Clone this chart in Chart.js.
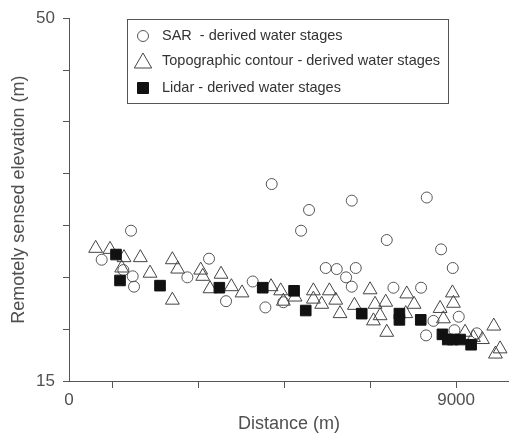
<!DOCTYPE html>
<html>
<head>
<meta charset="utf-8">
<title>Remotely sensed elevation</title>
<script src="https://cdn.jsdelivr.net/npm/chart.js@4.4.0/dist/chart.umd.min.js"></script>
<style>
  body { margin: 0; background: #fff; }
</style>
</head>
<body>
<canvas id="grafico" width="509" height="439"></canvas>
<script>
// SAR - derived water stages
const sarX = [760, 1442, 1264, 1481, 1512, 2752, 3256, 3651, 4271, 4566, 4713, 4984, 5395, 5581, 5969, 6225,
              6442, 6574, 6574, 6667, 7388, 7543, 8186, 8318, 8302, 8473, 8651, 8922, 9062, 8961, 9481];
const sarY = [26.7, 29.5, 25.7, 25.1, 24.1, 25.0, 26.8, 22.7, 24.6, 22.1, 34.0, 22.6, 29.5, 31.5, 25.9, 25.8,
              25.0, 24.1, 32.4, 25.9, 28.6, 24.0, 24.0, 32.7, 19.4, 20.8, 27.7, 25.9, 21.2, 19.9, 19.6];

// Topographic contour - derived water stages
const topoX = [620, 953, 1279, 1225, 1659, 1884, 2403, 2527, 2403, 3062, 3109, 3279, 3535, 3775, 4023, 4698,
               4922, 4984, 5256, 5682, 5682, 5876, 6054, 6202, 6302, 6636, 7000, 7116, 7364, 7233, 7078, 7388,
               7853, 8023, 7829, 8628, 8705, 8915, 8938, 9209, 9403, 9612, 9876, 10023, 9915];
const topoY = [27.8, 27.7, 26.9, 25.9, 26.9, 25.4, 26.7, 25.8, 22.8, 25.7, 25.1, 23.9, 25.3, 24.1, 23.5, 24.1,
               23.7, 22.7, 23.1, 23.7, 22.9, 22.4, 23.7, 22.8, 21.5, 22.3, 23.8, 22.4, 22.6, 21.3, 20.8, 19.7,
               23.4, 22.4, 21.5, 22.0, 21.0, 23.5, 22.5, 19.7, 19.2, 19.0, 20.3, 18.1, 17.6];

// Lidar - derived water stages
const lidarX = [1093, 1186, 2116, 3496, 4504, 5233, 5504, 6806, 7682, 7682, 8178, 8682, 8806, 8922, 9093, 9349];
const lidarY = [27.2, 24.7, 24.2, 24.0, 24.0, 23.7, 21.8, 21.5, 21.5, 20.9, 20.9, 19.5, 19.0, 19.0, 19.0, 18.5];

const xTicks = [0, 1000, 3000, 5000, 7000, 9000];
const xTickLabels = ['0', '', '', '', '', '9000'];
const yTicks = [15, 20, 25, 30, 35, 40, 45, 50];
const yTickLabels = ['15', '', '', '', '', '', '', '50'];

const etiquetas = ['SAR  - derived water stages', 'Topographic contour - derived water stages', 'Lidar - derived water stages'];

const fuente = '"Liberation Sans", Arial, sans-serif';
const gris = '#505050';

const puntos = (xs, ys) => xs.map((x, i) => ({ x: x, y: ys[i] }));

// marcador simple para la leyenda
function marcador(ctx, estilo, x, y, r) {
    ctx.beginPath();
    if (estilo === 'circle') {
        ctx.arc(x, y, r, 0, Math.PI * 2);
    } else if (estilo === 'triangle') {
        ctx.moveTo(x, y - r);
        ctx.lineTo(x + r * 0.866, y + r / 2);
        ctx.lineTo(x - r * 0.866, y + r / 2);
        ctx.closePath();
    } else {
        ctx.rect(x - r, y - r, 2 * r, 2 * r);
    }
}

const leyendaRecuadro = {
    id: 'leyendaRecuadro',
    afterDraw(chart) {
        const ctx = chart.ctx;
        ctx.save();
        ctx.strokeStyle = '#555';
        ctx.lineWidth = 1;
        ctx.strokeRect(127.5, 19.5, 321, 84);

        const filas = [36, 61, 88];
        const estilos = [
            { s: 'circle', r: 5.5, fill: null, stroke: '#555', dy: 0 },
            { s: 'triangle', r: 10, fill: null, stroke: '#444', dy: 2 },
            { s: 'rect', r: 5.5, fill: '#111', stroke: '#111', dy: 0 }
        ];
        ctx.font = '14.5px ' + fuente;
        ctx.textBaseline = 'middle';
        ctx.textAlign = 'left';
        etiquetas.forEach((txt, i) => {
            const e = estilos[i];
            marcador(ctx, e.s, 143, filas[i] + e.dy, e.r);
            if (e.fill) { ctx.fillStyle = e.fill; ctx.fill(); }
            ctx.strokeStyle = e.stroke;
            ctx.stroke();
            ctx.fillStyle = '#333';
            ctx.fillText(txt, 162, filas[i]);
        });
        ctx.restore();
    }
};

const ctx = document.getElementById('grafico').getContext('2d');

new Chart(ctx, {
    type: 'scatter',
    data: {
        datasets: [
            {
                label: etiquetas[0],
                data: puntos(sarX, sarY),
                pointStyle: 'circle',
                pointRadius: 5.5,
                borderWidth: 1,
                borderColor: '#555',
                backgroundColor: 'rgba(0,0,0,0)',
                order: 3
            },
            {
                label: etiquetas[1],
                data: puntos(topoX, topoY),
                pointStyle: 'triangle',
                pointRadius: 8,
                borderWidth: 1,
                borderColor: '#444',
                backgroundColor: 'rgba(0,0,0,0)',
                order: 2
            },
            {
                label: etiquetas[2],
                data: puntos(lidarX, lidarY),
                pointStyle: 'rect',
                pointRadius: 7.5,
                borderWidth: 1,
                borderColor: '#111',
                backgroundColor: '#111',
                order: 1
            }
        ]
    },
    options: {
        responsive: false,
        animation: false,
        layout: { autoPadding: false, padding: { top: 16, right: 0, bottom: 0, left: 0 } },
        plugins: {
            legend: { display: false },
            tooltip: { enabled: false }
        },
        scales: {
            x: {
                type: 'linear',
                min: 0,
                max: 10230,
                afterBuildTicks: (s) => { s.ticks = xTicks.map(v => ({ value: v })); },
                afterFit: (s) => { s.height = 58; },
                ticks: {
                    autoSkip: false,
                    maxRotation: 0,
                    padding: 2,
                    color: gris,
                    font: { family: fuente, size: 17 },
                    callback: (v) => xTickLabels[xTicks.indexOf(v)] || ''
                },
                grid: {
                    drawOnChartArea: false,
                    tickLength: 7,
                    tickColor: (c) => (c.tick && c.tick.value === 0) ? 'rgba(0,0,0,0)' : '#555'
                },
                border: { color: '#555' },
                title: {
                    display: true,
                    text: 'Distance (m)',
                    color: gris,
                    font: { family: fuente, size: 18 },
                    padding: { top: 0, bottom: 4 }
                }
            },
            y: {
                min: 15,
                max: 50,
                afterBuildTicks: (s) => { s.ticks = yTicks.map(v => ({ value: v })); },
                afterFit: (s) => { s.width = 69; },
                ticks: {
                    autoSkip: false,
                    padding: 8,
                    color: gris,
                    font: { family: fuente, size: 17 },
                    callback: (v) => yTickLabels[yTicks.indexOf(v)] || ''
                },
                grid: {
                    drawOnChartArea: false,
                    tickLength: 6,
                    tickColor: '#555'
                },
                border: { color: '#555' },
                title: {
                    display: true,
                    text: 'Remotely sensed elevation (m)',
                    color: gris,
                    font: { family: fuente, size: 18 },
                    padding: { top: 8, bottom: 0 }
                }
            }
        }
    },
    plugins: [leyendaRecuadro]
});
</script>
</body>
</html>
